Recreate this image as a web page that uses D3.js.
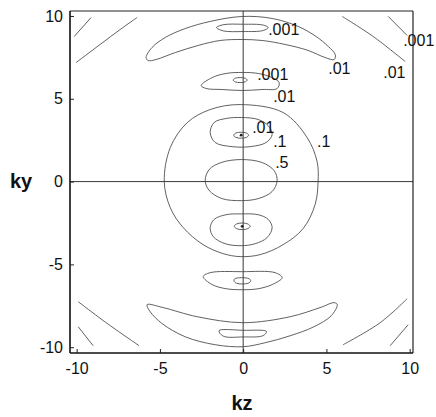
<!DOCTYPE html>
<html>
<head>
<meta charset="utf-8">
<script src="https://cdn.jsdelivr.net/npm/d3@7"></script>
<style>
  body { margin: 0; background: #fff; }
  svg { display: block; }
  text { font-family: "Liberation Sans", Arial, sans-serif; fill: #111; }
</style>
</head>
<body>
<svg id="chart"></svg>
<script>
var width = 436;
var height = 417;

// tick values
var kzTicks = [-10, -5, 0, 5, 10];
var kyTicks = [-10, -5, 0, 5, 10];

// contour lines, as [kz, ky] points
// closed ones
var core05 = [[-0.12,1.33],[1.14,1.15],[1.86,0.66],[2.04,0.06],[1.74,-0.6],[0.9,-1.03],[-0.12,-1.15],[-1.26,-1.03],[-2.04,-0.54],[-2.28,0.06],[-2.04,0.73],[-1.32,1.15]];
var ring01 = [[-0.18,4.65],[2.4,4.17],[3.84,2.66],[4.44,1.21],[4.5,0],[4.32,-1.39],[3.6,-2.84],[2.4,-3.81],[1.02,-4.41],[-0.18,-4.53],[-1.2,-4.35],[-2.4,-3.81],[-3.6,-2.78],[-4.38,-1.57],[-4.74,0],[-4.38,2.05],[-3.36,3.56],[-1.98,4.35]];
var lobeUp01 = [[-0.12,3.87],[0.9,3.75],[1.5,3.38],[1.74,2.84],[1.38,2.36],[0.42,2.11],[-0.66,2.11],[-1.68,2.36],[-1.98,2.96],[-1.74,3.57],[-1.02,3.81]];
var lobeDown01 = [[-0.12,-1.95],[0.9,-2.0],[1.5,-2.28],[1.74,-2.78],[1.44,-3.38],[0.72,-3.75],[-0.12,-3.87],[-1.08,-3.75],[-1.8,-3.32],[-1.98,-2.78],[-1.74,-2.28],[-1.02,-2.0]];
var dotUp001 = [[-0.57,2.8],[-0.44,2.93],[-0.12,2.98],[0.2,2.93],[0.33,2.8],[0.2,2.67],[-0.12,2.62],[-0.44,2.67]];
var dotDown001 = [[-0.54,-2.7],[-0.4,-2.56],[-0.06,-2.5],[0.28,-2.56],[0.42,-2.7],[0.28,-2.84],[-0.06,-2.9],[-0.4,-2.84]];
var bandUp01 = [[-2.52,5.8],[-1.86,6.28],[-1.02,6.53],[-0.06,6.59],[0.9,6.53],[1.74,6.28],[2.16,5.98],[2.04,5.62],[1.14,5.56],[-0.06,5.5],[-1.26,5.56],[-2.22,5.62]];
var bandDown01 = [[-2.4,-5.74],[-1.98,-5.5],[-0.06,-5.44],[1.92,-5.5],[2.34,-5.8],[1.74,-6.22],[0.9,-6.47],[-0.06,-6.53],[-1.02,-6.47],[-1.86,-6.22]];
var spotUp001 = [[-0.6,6.13],[-0.48,6.24],[-0.18,6.28],[0.12,6.24],[0.24,6.13],[0.12,6.02],[-0.18,5.98],[-0.48,6.02]];
var spotDown001 = [[-0.5,-5.86],[0.35,-5.86],[0.45,-6.0],[0.3,-6.14],[-0.4,-6.14],[-0.55,-6.0]];
var arcUp01 = [[-5.83,7.49],[-5.47,8.1],[-4.68,8.7],[-3.48,9.24],[-1.98,9.67],[-0.06,9.97],[1.74,9.85],[3.3,9.37],[4.38,8.76],[5.11,8.16],[5.53,7.67],[5.47,7.37],[4.92,7.49],[3.9,7.92],[2.52,8.28],[1.14,8.52],[-0.06,8.58],[-1.38,8.52],[-2.7,8.22],[-4.08,7.79],[-5.23,7.37],[-5.71,7.31]];
var arcDown01 = [[-5.77,-7.43],[-4.8,-7.61],[-2.76,-8.16],[0,-8.52],[2.82,-8.16],[4.62,-7.61],[5.47,-7.31],[5.65,-7.43],[5.29,-8.1],[4.26,-8.76],[2.82,-9.31],[1.32,-9.73],[0,-9.97],[-1.68,-9.85],[-3.48,-9.37],[-4.86,-8.58],[-5.59,-7.85]];
var slitUp001 = [[-1.6,9.3],[-1.2,9.47],[0,9.5],[1.2,9.45],[1.5,9.3],[1.2,9.12],[0,9.06],[-1.2,9.1]];
var slitDown001 = [[-1.45,-9.0],[0,-8.98],[1.4,-9.05],[1.2,-9.3],[0,-9.38],[-1.2,-9.33]];

// open ones, in the corners
var cornerTL01 = [[-10.03,7.19],[-8.59,8.28],[-7.39,9.18],[-6.37,9.91]];
var cornerTL001 = [[-10.15,8.76],[-9.13,9.91]];
var cornerTR01 = [[5.95,9.97],[7.81,8.76],[9.73,7.25]];
var cornerTR001 = [[8.71,9.97],[9.85,8.82]];
var cornerBL01 = [[-9.91,-7.25],[-8.23,-8.52],[-6.25,-9.91]];
var cornerBL001 = [[-9.91,-8.76],[-9.01,-9.91]];
var cornerBR01 = [[6.0,-9.85],[8.23,-8.52],[9.85,-7.07]];
var cornerBR001 = [[8.83,-9.91],[9.91,-8.64]];

// central points of the small rings
var centres = [[-0.12,2.8],[-0.06,-2.7]];

// contour labels
var labelText = [".001", ".001", ".01", ".01", ".001", ".01", ".01", ".1", ".1", ".5"];
var labelKz   = [1.5, 9.61, 5.11, 8.41, 0.84, 1.8, 0.54, 1.8, 4.44, 1.92];
var labelKy   = [8.88, 8.16, 6.47, 6.28, 6.16, 4.83, 2.96, 2.11, 2.11, 0.85];

var closedLines = [core05, ring01, lobeUp01, lobeDown01, dotUp001, dotDown001,
  bandUp01, bandDown01, spotUp001, spotDown001, arcUp01, arcDown01, slitUp001, slitDown001];
var openLines = [cornerTL01, cornerTL001, cornerTR01, cornerTR001,
  cornerBL01, cornerBL001, cornerBR01, cornerBR001];

var svg = d3.select("#chart").attr("width", width).attr("height", height);

var x = d3.scaleLinear().domain([-10.4, 10.2]).range([70, 413]);
var y = d3.scaleLinear().domain([-10.35, 10.3]).range([353, 11]);

var closedPath = d3.line().x(d => x(d[0])).y(d => y(d[1])).curve(d3.curveCatmullRomClosed);
var openPath = d3.line().x(d => x(d[0])).y(d => y(d[1])).curve(d3.curveCatmullRom);

var plot = svg.append("g");

// zero lines
plot.append("line")
  .attr("x1", x.range()[0]).attr("x2", x.range()[1])
  .attr("y1", y(0)).attr("y2", y(0))
  .attr("stroke", "#222").attr("stroke-width", 0.9);
plot.append("line")
  .attr("x1", x(0)).attr("x2", x(0))
  .attr("y1", y.range()[0]).attr("y2", y.range()[1])
  .attr("stroke", "#222").attr("stroke-width", 0.9);

plot.selectAll("path.closed")
  .data(closedLines)
  .enter().append("path")
    .attr("class", "closed")
    .attr("d", closedPath)
    .attr("fill", "none")
    .attr("stroke", "#444")
    .attr("stroke-width", 0.85);

plot.selectAll("path.open")
  .data(openLines)
  .enter().append("path")
    .attr("class", "open")
    .attr("d", openPath)
    .attr("fill", "none")
    .attr("stroke", "#444")
    .attr("stroke-width", 0.85);

plot.selectAll("circle.centre")
  .data(centres)
  .enter().append("circle")
    .attr("class", "centre")
    .attr("cx", d => x(d[0]))
    .attr("cy", d => y(d[1]))
    .attr("r", 1.4)
    .attr("fill", "#222");

plot.selectAll("text.lab")
  .data(labelText)
  .enter().append("text")
    .attr("class", "lab")
    .attr("x", (d, i) => x(labelKz[i]))
    .attr("y", (d, i) => y(labelKy[i]))
    .attr("font-size", 16)
    .text(d => d);

// frame
var x0 = x.range()[0], x1 = x.range()[1], y0 = y.range()[0], y1 = y.range()[1];
svg.append("line").attr("x1", x0).attr("x2", x1).attr("y1", y1).attr("y2", y1)
  .attr("stroke", "#222").attr("stroke-width", 1);
svg.append("line").attr("x1", x1).attr("x2", x1).attr("y1", y1).attr("y2", y0)
  .attr("stroke", "#222").attr("stroke-width", 1.2);
svg.append("line").attr("x1", x0).attr("x2", x1).attr("y1", y0).attr("y2", y0)
  .attr("stroke", "#111").attr("stroke-width", 1.6);
svg.append("line").attr("x1", x0).attr("x2", x0).attr("y1", y1).attr("y2", y0)
  .attr("stroke", "#111").attr("stroke-width", 1.6);

// axes
var xAxis = svg.append("g")
  .attr("transform", "translate(0," + y0 + ")")
  .call(d3.axisBottom(x).tickValues(kzTicks).tickFormat(d3.format("d"))
    .tickSizeInner(-4).tickSizeOuter(0).tickPadding(10));
var yAxis = svg.append("g")
  .attr("transform", "translate(" + x0 + ",0)")
  .call(d3.axisLeft(y).tickValues(kyTicks).tickFormat(d3.format("d"))
    .tickSizeInner(-4).tickSizeOuter(0).tickPadding(7));

[xAxis, yAxis].forEach(g => {
  g.select(".domain").remove();
  g.selectAll("line").attr("stroke", "#222");
  g.selectAll("text")
    .attr("font-family", "'Liberation Sans', Arial, sans-serif")
    .attr("font-size", 16)
    .attr("fill", "#111")
    .text(d => d < 0 ? "-" + Math.abs(d) : d);
});

// axis titles
svg.append("text")
  .attr("x", 21).attr("y", 188)
  .attr("text-anchor", "middle")
  .attr("font-size", 20).attr("font-weight", "bold")
  .text("ky");
svg.append("text")
  .attr("x", 242).attr("y", 410)
  .attr("text-anchor", "middle")
  .attr("font-size", 20).attr("font-weight", "bold")
  .text("kz");
</script>
</body>
</html>
